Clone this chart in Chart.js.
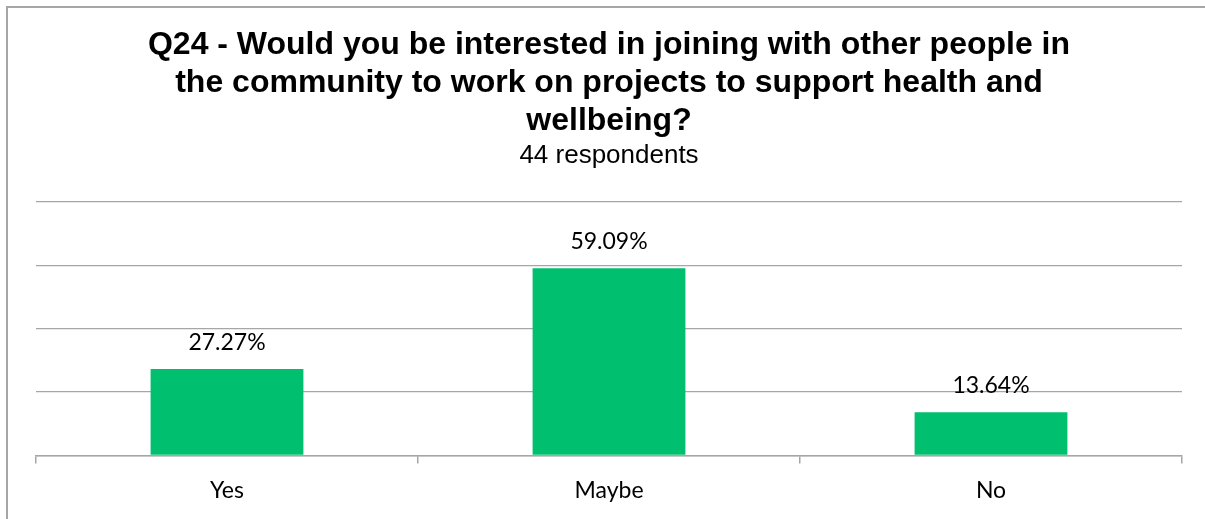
<!DOCTYPE html>
<html>
<head>
<meta charset="utf-8">
<script src="https://cdn.jsdelivr.net/npm/chart.js@4/dist/chart.umd.min.js"></script>
<style>
  html, body { margin: 0; padding: 0; background: #ffffff; overflow: hidden; }
  #frame {
    position: absolute; left: 6px; top: 6px; width: 1240px; height: 560px;
    border: 2px solid #a6a6a6; box-sizing: border-box;
  }
  #wrap { position: absolute; left: 0; top: 0; width: 1205px; height: 519px; }
</style>
</head>
<body>
<div id="frame"></div>
<div id="wrap"><canvas id="q24Chart"></canvas></div>
<script>
// Survey answers and their share of respondents (%)
const answers = ["Yes", "Maybe", "No"];
const shares = [27.27, 59.09, 13.64];
const titleLines = [
  "Q24 - Would you be interested in joining with other people in",
  "the community to work on projects to support health and",
  "wellbeing?"
];
const subtitleText = "44 respondents";

const barGreen = "#00bf6f";
const lineGray = "#a6a6a6";

// Percentage labels above each bar
const barValueLabels = {
  id: "barValueLabels",
  afterDatasetsDraw(chart) {
    const ctx = chart.ctx;
    const meta = chart.getDatasetMeta(0);
    ctx.save();
    ctx.font = "23px Lato, sans-serif";
    ctx.fillStyle = "#000000";
    ctx.textAlign = "center";
    ctx.textBaseline = "alphabetic";
    meta.data.forEach((bar, i) => {
      ctx.fillText(shares[i].toFixed(2) + "%", bar.x, bar.y - 19);
    });
    ctx.restore();
  }
};

const ctx = document.getElementById("q24Chart").getContext("2d");
new Chart(ctx, {
  type: "bar",
  data: {
    labels: answers,
    datasets: [{
      data: shares,
      backgroundColor: barGreen,
      borderWidth: 0,
      barPercentage: 0.8,
      categoryPercentage: 0.5
    }]
  },
  options: {
    responsive: true,
    maintainAspectRatio: false,
    animation: false,
    layout: { padding: { left: 36, right: 23, top: 26, bottom: 2 } },
    plugins: {
      legend: { display: false },
      tooltip: { enabled: false },
      title: {
        display: true,
        text: titleLines,
        color: "#000000",
        font: { family: "'Liberation Sans', Arial, sans-serif", size: 32, weight: "bold", lineHeight: 1.19 },
        padding: { top: 0, bottom: 0 }
      },
      subtitle: {
        display: true,
        text: subtitleText,
        color: "#000000",
        font: { family: "'Liberation Sans', Arial, sans-serif", size: 26, lineHeight: 1.2 },
        padding: { top: 0, bottom: 30.5 }
      }
    },
    scales: {
      x: {
        grid: {
          display: true,
          offset: true,
          drawOnChartArea: false,
          drawTicks: true,
          tickLength: 8,
          color: lineGray,
          lineWidth: 1.5
        },
        border: { display: true, color: lineGray, width: 1.5 },
        ticks: {
          color: "#000000",
          padding: 13,
          font: { family: "Lato, sans-serif", size: 23 }
        }
      },
      y: {
        min: 0,
        max: 80,
        ticks: { display: false, stepSize: 20 },
        grid: { color: lineGray, lineWidth: 1.2, drawTicks: false },
        border: { display: false }
      }
    }
  },
  plugins: [barValueLabels]
});
</script>
</body>
</html>
